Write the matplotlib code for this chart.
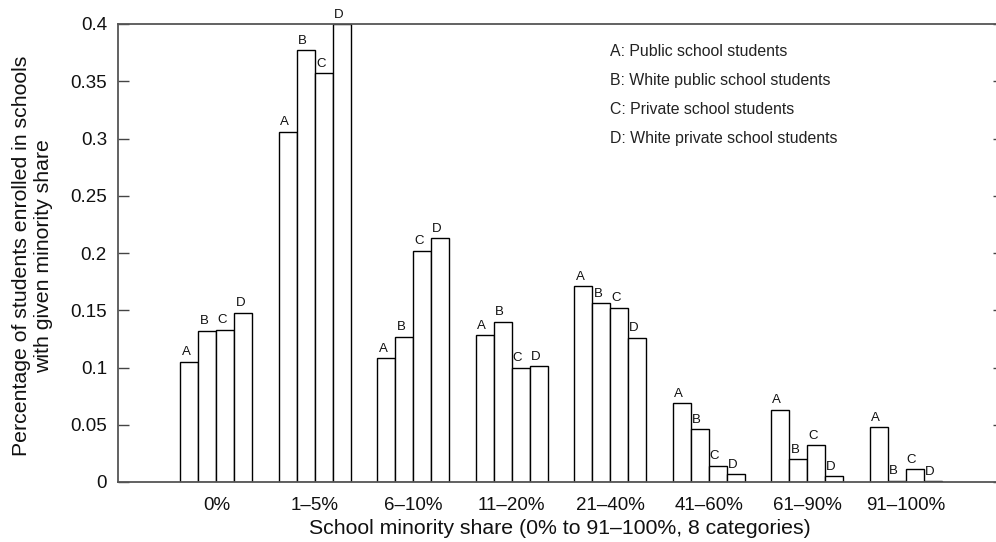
import matplotlib
matplotlib.use("Agg")
import matplotlib.pyplot as plt
import numpy as np

plt.rcParams['font.family'] = ['Liberation Sans', 'DejaVu Sans']

categories = ["0%", "1\u20135%", "6\u201310%", "11\u201320%", "21\u201340%", "41\u201360%", "61\u201390%", "91\u2013100%"]
series_letters = ["A", "B", "C", "D"]
series_names = ["Public school students", "White public school students",
                "Private school students", "White private school students"]
A = [0.105, 0.306, 0.108, 0.128, 0.171, 0.069, 0.063, 0.048]
B = [0.132, 0.377, 0.127, 0.140, 0.156, 0.046, 0.020, 0.001]
C = [0.133, 0.357, 0.202, 0.100, 0.152, 0.014, 0.032, 0.011]
D = [0.148, 0.400, 0.213, 0.101, 0.126, 0.007, 0.005, 0.0005]
yticks = [0, 0.05, 0.1, 0.15, 0.2, 0.25, 0.3, 0.35, 0.4]
ytick_labels = ["0", "0.05", "0.1", "0.15", "0.2", "0.25", "0.3", "0.35", "0.4"]

W, H = 996, 542
fig = plt.figure(figsize=(W/100, H/100), dpi=100)
ax_left, ax_right, ax_top, ax_bot = 118, 1004, 24, 482
ax = fig.add_axes([ax_left/W, 1 - ax_bot/H, (ax_right-ax_left)/W, (ax_bot-ax_top)/H])

w = 0.183
x = np.arange(len(categories))
allser = [A, B, C, D]
for i, (vals, let) in enumerate(zip(allser, series_letters)):
    left = x + (i - 2) * w
    ax.bar(left, vals, width=w, align='edge', facecolor='white',
           edgecolor='black', linewidth=1.0, zorder=2)
    for xl, v in zip(left, vals):
        ax.annotate(let, (xl + w * 0.32, v), xytext=(0, 2.5), textcoords='offset points',
                    ha='center', va='bottom', fontsize=9.5, color='#111111')

ax.set_xlim(-1, 8)
ax.set_ylim(0, 0.4)
ax.set_yticks(yticks)
ax.set_yticklabels(ytick_labels)
ax.set_xticks(x)
ax.set_xticklabels(categories)
ax.tick_params(axis='y', direction='in', length=8, width=1, labelsize=13.5, pad=8,
               right=True, color='#444444', labelcolor='#111111')
ax.tick_params(axis='x', length=0, labelsize=13.5, pad=11, labelcolor='#111111')
for s in ['left', 'top', 'bottom']:
    ax.spines[s].set_linewidth(1.3)
    ax.spines[s].set_color('#555555')
ax.spines['right'].set_visible(False)

fig.text(32.5/W, 1 - 256/H, "Percentage of students enrolled in schools\nwith given minority share",
         rotation=90, fontsize=15.3, ha='center', va='center', linespacing=1.15,
         multialignment='center', color='#111111')
fig.text(560/W, 1 - 529/H, "School minority share (0% to 91\u2013100%, 8 categories)",
         fontsize=15.3, ha='center', va='center', color='#111111')

legend_y = [52, 80.5, 109, 138]
for let, name, yy in zip(series_letters, series_names, legend_y):
    fig.text(610/W, 1 - yy/H, f"{let}: {name}", fontsize=11.4, ha='left', va='center',
             color='#222222')

fig.savefig("out.png", dpi=100)
